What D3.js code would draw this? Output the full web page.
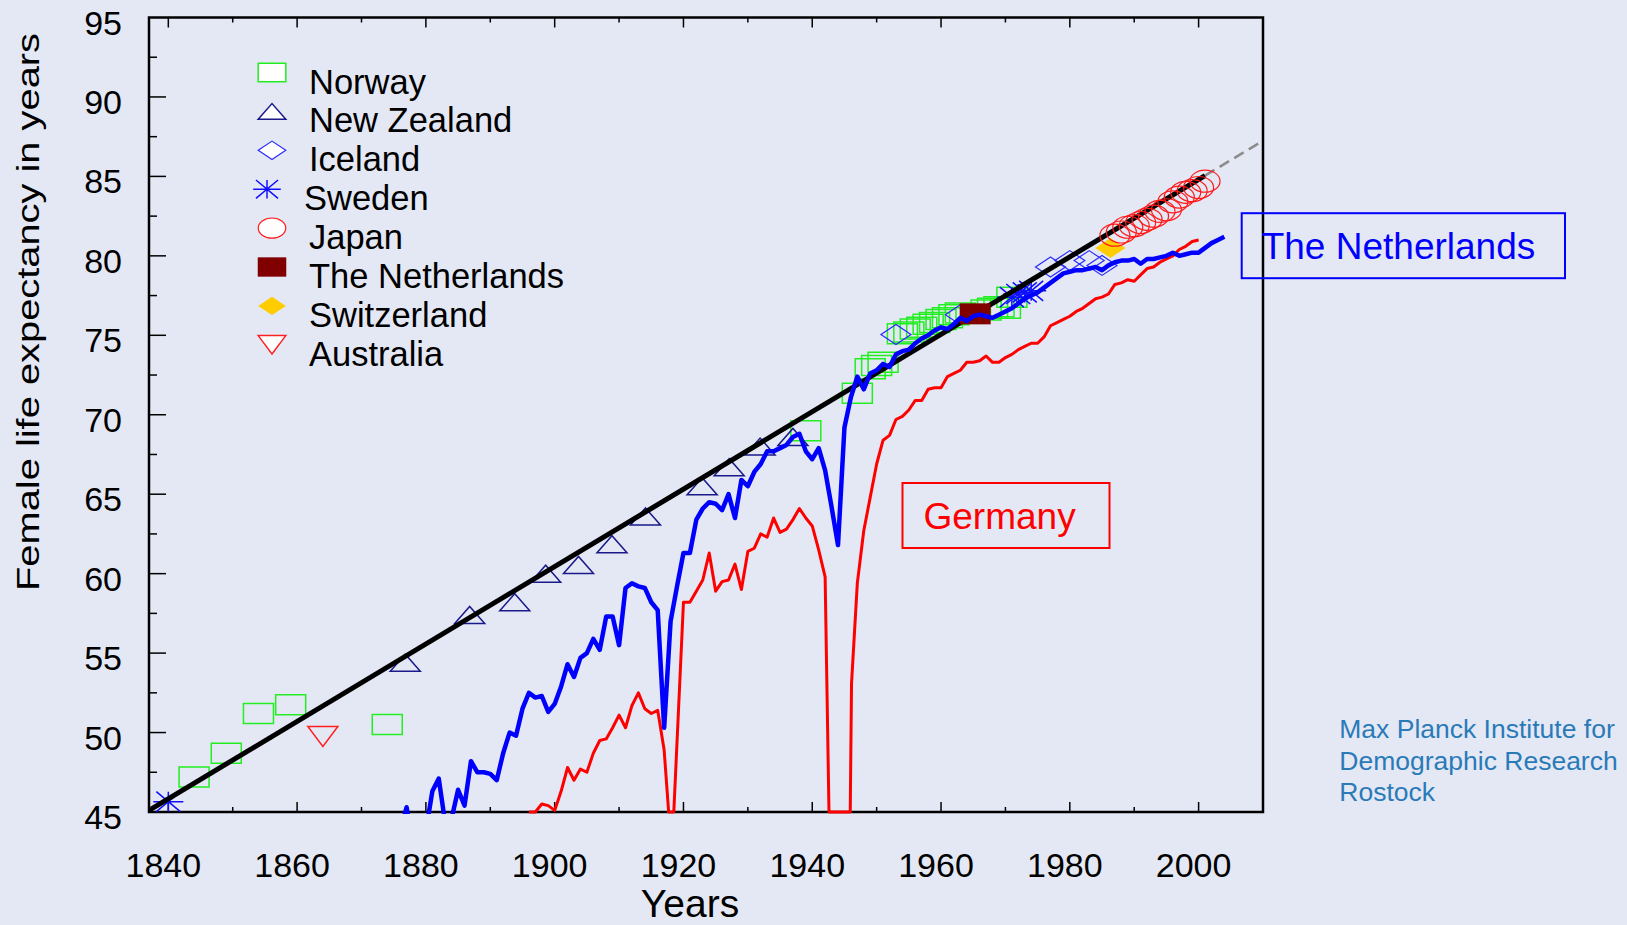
<!DOCTYPE html>
<meta charset="utf-8">
<style>
  body { margin: 0; background: #e4e8f4; }
  svg { display: block; font-family: "Liberation Sans", Arial, Helvetica, sans-serif; }
</style>
<body>
<script src="https://d3js.org/d3.v7.min.js"></script>
<script>

// ---- data ----
var nlYears = [1870,1871,1872,1873,1874,1875,1876,1877,1878,1879,
  1880,1881,1882,1883,1884,1885,1886,1887,1888,1889,
  1890,1891,1892,1893,1894,1895,1896,1897,1898,1899,
  1900,1901,1902,1903,1904,1905,1906,1907,1908,1909,
  1910,1911,1912,1913,1914,1915,1916,1917,1918,1919,
  1920,1921,1922,1923,1924,1925,1926,1927,1928,1929,
  1930,1931,1932,1933,1934,1935,1936,1937,1938,1939,
  1940,1941,1942,1943,1944,1945,1946,1947,1948,1949,
  1950,1951,1952,1953,1954,1955,1956,1957,1958,1959,
  1960,1961,1962,1963,1964,1965,1966,1967,1968,1969,
  1970,1971,1972,1973,1974,1975,1976,1977,1978,1979,
  1980,1981,1982,1983,1984,1985,1986,1987,1988,1989,
  1990,1991,1992,1993,1994,1995,1996,1997,1998,1999,
  2000,2001,2002,2003,2004];
var nlValues = [42.0,41.5,42.5,42.0,43.0,43.5,43.8,45.3,43.0,43.5,
  43.8,46.3,47.1,44.3,44.6,46.4,45.4,48.2,47.5,47.5,
  47.4,47.0,48.7,50.0,49.8,51.5,52.5,52.2,52.3,51.3,
  51.8,52.9,54.3,53.5,54.7,55.0,55.9,55.2,57.3,57.3,
  55.5,59.1,59.4,59.2,59.1,58.2,57.7,50.3,57.0,59.2,
  61.3,61.3,63.4,64.1,64.5,64.4,64.0,65.0,63.5,65.9,
  65.5,66.4,66.9,67.7,67.7,67.9,68.1,68.6,68.8,67.7,
  67.2,67.9,66.5,64.2,61.8,69.2,71.1,72.4,71.6,72.6,
  72.8,73.2,73.0,73.8,74.0,74.1,74.5,74.8,75.0,75.3,
  75.5,75.4,75.7,76.1,75.9,76.2,76.3,76.2,76.1,76.3,
  76.5,76.7,77.0,77.3,77.5,77.7,78.0,78.3,78.6,78.9,
  79.0,79.1,79.1,79.2,79.3,79.1,79.4,79.6,79.7,79.7,
  79.8,79.5,79.8,79.8,79.9,80.0,80.2,80.0,80.1,80.2,
  80.2,80.5,80.8,81.0,81.2];

var deYears = [1896,1897,1898,1899,1900,1901,1902,1903,1904,1905,
  1906,1907,1908,1909,1910,1911,1912,1913,1914,1915,
  1916,1917,1917.7,1918.5,1920,1921,1922,1923,1924,1925,
  1926,1927,1928,1929,1930,1931,1932,1933,1934,1935,
  1936,1937,1938,1939,1940,1941,1942,1942.6,1945.9,1946.1,
  1947,1948,1949,1950,1951,1952,1953,1954,1955,1956,
  1957,1958,1959,1960,1961,1962,1963,1964,1965,1966,
  1967,1968,1969,1970,1971,1972,1973,1974,1975,1976,
  1977,1978,1979,1980,1981,1982,1983,1984,1985,1986,
  1987,1988,1989,1990,1991,1992,1993,1994,1995,1996,
  1997,1998,1999,2000];
var deValues = [45.0,45.0,45.5,45.4,45.1,46.3,47.8,47.0,47.7,47.5,
  48.7,49.5,49.6,50.3,51.1,50.3,51.7,52.5,51.5,51.2,
  51.4,48.9,45.0,45.0,58.2,58.2,58.9,59.6,61.3,58.9,
  59.5,59.6,60.6,59.0,61.4,61.6,62.5,62.3,63.5,62.6,
  62.8,63.4,64.1,63.5,63.0,61.5,59.8,45.0,45.0,53.1,
  59.4,62.7,64.8,66.9,68.4,68.7,69.7,69.9,70.3,70.9,
  70.9,71.6,71.7,71.7,72.4,72.6,72.8,73.3,73.3,73.4,
  73.7,73.3,73.3,73.6,73.8,74.1,74.3,74.5,74.5,74.9,
  75.6,75.8,76.0,76.2,76.5,76.7,77.0,77.3,77.4,77.6,
  78.2,78.3,78.5,78.4,78.8,79.2,79.3,79.6,79.8,80.0,
  80.4,80.6,80.9,81.0];

// best-practice line and its dashed extension
var trendYears = [1837, 2001], trendValues = [45.1, 85.05];
var extYears = [2001, 2010], extValues = [85.05, 87.24];

// record holders
var norwayYears = [1844,1849,1854,1859,1874,1939,1947,1949,1950,1951,1954,1955,1956,1957,1958,1959,1960,1961,1962,1963,1967,1968,1969,1970,1971];
var norwayValues = [47.2,48.7,51.2,51.75,50.5,69.0,71.35,72.9,73.1,73.3,75.1,75.2,75.4,75.5,75.7,75.8,76.0,76.1,76.3,76.4,76.6,76.7,76.8,76.7,77.4];
var nzYears = [1876.8,1886.8,1893.8,1898.6,1903.7,1908.9,1914.1,1922.9,1927.1,1931.9,1937.0];
var nzValues = [54.4,57.4,58.2,60.0,60.55,61.85,63.6,65.5,66.7,68.0,68.6];
var icelandYears = [1953,1963,1977,1980,1983,1985];
var icelandValues = [75.05,76.3,79.3,79.7,79.7,79.4];
var swedenYears = [1840,1971,1972,1973,1974];
var swedenValues = [45.65,77.4,77.6,77.7,77.8];
var japanYears = [1987,1988,1989,1990,1991,1992,1993,1994,1995,1996,1997,1998,1999,2000,2001];
var japanValues = [81.3,81.5,81.8,81.9,82.1,82.3,82.5,82.8,82.9,83.4,83.7,84.0,84.1,84.3,84.7];
var nethYears = [1965.3], nethValues = [76.35];
var swissYears = [1986.3], swissValues = [80.5];
var australiaYears = [1864], australiaValues = [49.75];

var legendNames = ["Norway","New Zealand","Iceland","Sweden","Japan","The Netherlands","Switzerland","Australia"];
var xTickValues = [1840,1860,1880,1900,1920,1940,1960,1980,2000];
var yTickValues = [45,50,55,60,65,70,75,80,85,90,95];

// ---- layout ----
var W = 1627, H = 925;
var box = {left: 149, right: 1263, top: 17.5, bottom: 812};

var x = d3.scaleLinear().domain([1837, 2010]).range([box.left, box.right]);
var y = d3.scaleLinear().domain([45, 95]).range([box.bottom, box.top]);

var svg = d3.select("body").append("svg")
  .attr("width", W)
  .attr("height", H);

svg.append("rect").attr("width", W).attr("height", H).attr("fill", "#e4e8f4");

svg.append("defs").append("clipPath").attr("id", "clip")
  .append("rect")
  .attr("x", box.left).attr("y", box.top)
  .attr("width", box.right - box.left).attr("height", box.bottom - box.top + 2);

// frame
svg.append("rect")
  .attr("x", box.left).attr("y", box.top)
  .attr("width", box.right - box.left).attr("height", box.bottom - box.top)
  .attr("fill", "none").attr("stroke", "#000").attr("stroke-width", 2.5);

// ticks (inward)
var ticks = svg.append("g").attr("stroke", "#000").attr("stroke-width", 1.5);
d3.range(1840, 2010, 10).forEach(function(t) {
  var len = (t % 20 === 0) ? 10 : 5;
  ticks.append("line").attr("x1", x(t)).attr("x2", x(t)).attr("y1", box.bottom).attr("y2", box.bottom - len);
  ticks.append("line").attr("x1", x(t)).attr("x2", x(t)).attr("y1", box.top).attr("y2", box.top + len);
});
d3.range(47.5, 95, 2.5).forEach(function(v) {
  var len = (v % 5 === 0) ? 17 : 8;
  ticks.append("line").attr("x1", box.left).attr("x2", box.left + len).attr("y1", y(v)).attr("y2", y(v));
});

// tick labels
svg.append("g").selectAll("text").data(xTickValues).enter().append("text")
  .attr("x", function(d) { return x(d) - 5; })
  .attr("y", 877)
  .attr("text-anchor", "middle")
  .style("font-size", "34px")
  .text(function(d) { return d; });

svg.append("g").selectAll("text").data(yTickValues).enter().append("text")
  .attr("x", 122)
  .attr("y", function(d) { return y(d) + 17; })
  .attr("text-anchor", "end")
  .style("font-size", "34px")
  .text(function(d) { return d; });

svg.append("text")
  .attr("x", 690).attr("y", 917)
  .attr("text-anchor", "middle")
  .style("font-size", "39px")
  .text("Years");

svg.append("text")
  .attr("transform", "translate(39,312) rotate(-90)")
  .attr("text-anchor", "middle")
  .attr("textLength", 558)
  .attr("lengthAdjust", "spacingAndGlyphs")
  .style("font-size", "31px")
  .text("Female life expectancy in years");

// ---- marker shapes ----
function markerPath(type, s) {
  s = s || 1;
  var w = 15 * s, h = 10 * s;
  if (type === "square") return "M" + (-w) + "," + (-h) + "H" + w + "V" + h + "H" + (-w) + "Z";
  if (type === "tri") return "M" + (-w) + "," + (8.5 * s) + "L0," + (-8.5 * s) + "L" + w + "," + (8.5 * s) + "Z";
  if (type === "itri") return "M" + (-w) + "," + (-h) + "L" + w + "," + (-h) + "L0," + h + "Z";
  if (type === "diamond") return "M" + (-w) + ",0L0," + (-h) + "L" + w + ",0L0," + h + "Z";
  if (type === "star") return "M" + (-w) + ",0H" + w + "M0," + (-h) + "V" + h +
    "M" + (-12 * s) + "," + (-h) + "L" + (12 * s) + "," + h + "M" + (-12 * s) + "," + h + "L" + (12 * s) + "," + (-h);
  if (type === "ellipse") return "M" + (-w) + ",0A" + w + "," + (11 * s) + " 0 1,0 " + w + ",0A" + w + "," + (11 * s) + " 0 1,0 " + (-w) + ",0Z";
  if (type === "rect") return "M" + (-15.5 * s) + "," + (-10.5 * s) + "H" + (15.5 * s) + "V" + (10.5 * s) + "H" + (-15.5 * s) + "Z";
}

var styles = {
  "Norway": {type: "square", stroke: "#22ee22", fill: "none", sw: 1.5},
  "New Zealand": {type: "tri", stroke: "#1a1a8a", fill: "none", sw: 1.5},
  "Iceland": {type: "diamond", stroke: "#2a2aff", fill: "none", sw: 1.2},
  "Sweden": {type: "star", stroke: "#1010ff", fill: "none", sw: 1.5},
  "Japan": {type: "ellipse", stroke: "#ff1a1a", fill: "none", sw: 1.2},
  "The Netherlands": {type: "rect", stroke: "none", fill: "#800000", sw: 0},
  "Switzerland": {type: "diamond", stroke: "none", fill: "#ffcc00", sw: 0},
  "Australia": {type: "itri", stroke: "#ff2020", fill: "none", sw: 1.5}
};

function drawMarkers(g, name, yrs, vals) {
  var st = styles[name];
  g.selectAll(null).data(d3.zip(yrs, vals)).enter().append("path")
    .attr("transform", function(d) { return "translate(" + x(d[0]) + "," + y(d[1]) + ")"; })
    .attr("d", markerPath(st.type))
    .attr("fill", st.fill)
    .attr("stroke", st.stroke)
    .attr("stroke-width", st.sw);
}

var plot = svg.append("g").attr("clip-path", "url(#clip)");

var line = d3.line()
  .x(function(d) { return x(d[0]); })
  .y(function(d) { return y(d[1]); });

// open markers under the record line
drawMarkers(plot, "Norway", norwayYears, norwayValues);
drawMarkers(plot, "New Zealand", nzYears, nzValues);
drawMarkers(plot, "Iceland", icelandYears, icelandValues);
drawMarkers(plot, "Sweden", swedenYears, swedenValues);
drawMarkers(plot, "Australia", australiaYears, australiaValues);

plot.append("path")
  .datum(d3.zip(extYears, extValues))
  .attr("d", line)
  .attr("fill", "none")
  .attr("stroke", "#8c8c8c")
  .attr("stroke-width", 2.5)
  .attr("stroke-dasharray", "11,6");

plot.append("path")
  .datum(d3.zip(trendYears, trendValues))
  .attr("d", line)
  .attr("fill", "none")
  .attr("stroke", "#000")
  .attr("stroke-width", 5);

drawMarkers(plot, "The Netherlands", nethYears, nethValues);
drawMarkers(plot, "Switzerland", swissYears, swissValues);
drawMarkers(plot, "Japan", japanYears, japanValues);

plot.append("path")
  .datum(d3.zip(deYears, deValues))
  .attr("d", line)
  .attr("fill", "none")
  .attr("stroke", "#ff0000")
  .attr("stroke-width", 3)
  .attr("stroke-linejoin", "round");

plot.append("path")
  .datum(d3.zip(nlYears, nlValues))
  .attr("d", line)
  .attr("fill", "none")
  .attr("stroke", "#0000ff")
  .attr("stroke-width", 4.5)
  .attr("stroke-linejoin", "round");

// ---- legend ----
var legend = svg.append("g");
legendNames.forEach(function(name, i) {
  var st = styles[name];
  var cy = 72.5 + i * 38.9;
  var mx = name === "Sweden" ? 267 : 272;
  legend.append("path")
    .attr("transform", "translate(" + mx + "," + cy + ")")
    .attr("d", markerPath(st.type, 0.92))
    .attr("fill", st.fill === "none" ? "#ffffff" : st.fill)
    .attr("stroke", st.stroke)
    .attr("stroke-width", st.sw);
  legend.append("text")
    .attr("x", name === "Sweden" ? 304 : 309)
    .attr("y", cy + 21)
    .style("font-size", "34.5px")
    .text(name);
});

// ---- annotations ----
svg.append("rect")
  .attr("x", 902.5).attr("y", 483)
  .attr("width", 207).attr("height", 65)
  .attr("fill", "none").attr("stroke", "#ff0000").attr("stroke-width", 2);
svg.append("text")
  .attr("x", 923.5).attr("y", 528.5)
  .attr("fill", "#ff0000")
  .style("font-size", "37px")
  .text("Germany");

svg.append("rect")
  .attr("x", 1241.7).attr("y", 213.2)
  .attr("width", 323.3).attr("height", 65)
  .attr("fill", "none").attr("stroke", "#0000ff").attr("stroke-width", 2);
svg.append("text")
  .attr("x", 1261.7).attr("y", 258.8)
  .attr("fill", "#0000ff")
  .style("font-size", "37px")
  .text("The Netherlands");

var credit = ["Max Planck Institute for", "Demographic Research", "Rostock"];
svg.append("g").selectAll("text").data(credit).enter().append("text")
  .attr("x", 1339.3)
  .attr("y", function(d, i) { return 738 + i * 31.5; })
  .attr("fill", "#2a7ab8")
  .style("font-size", "26.5px")
  .text(function(d) { return d; });

</script>
